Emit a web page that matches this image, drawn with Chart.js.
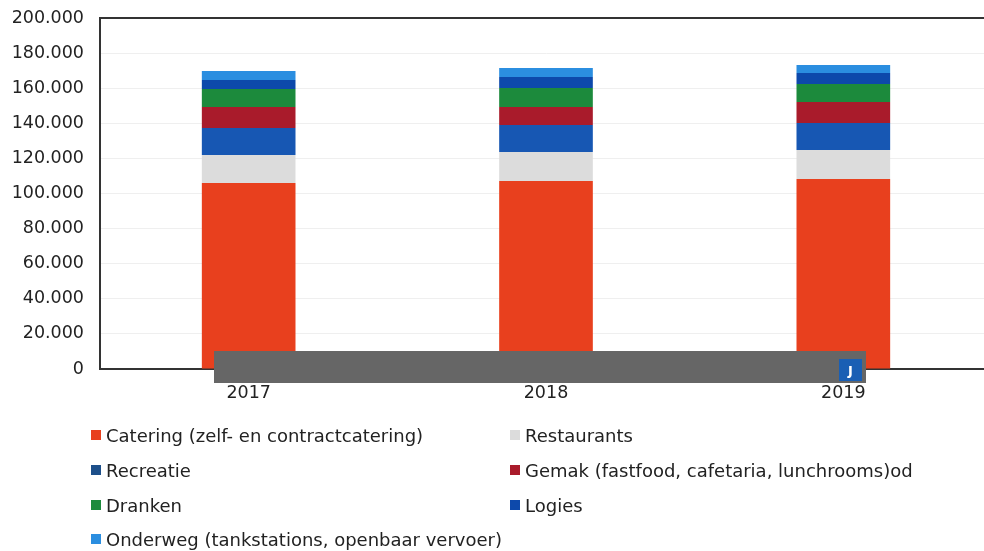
<!DOCTYPE html>
<html>
<head>
<meta charset="utf-8">
<script src="https://cdn.jsdelivr.net/npm/chart.js@4/dist/chart.umd.min.js"></script>
<style>
  html, body { margin: 0; padding: 0; background: #fff; overflow: hidden; width: 984px; height: 551px; }
  #wrap { position: absolute; left: 0; top: 0; width: 992px; height: 410px; }
  #legend { position: absolute; left: 0; top: 0; width: 984px; height: 551px; pointer-events: none;
            font-family: "DejaVu Sans", Verdana, sans-serif; font-size: 18px; color: #222; }
  .li { position: absolute; white-space: nowrap; display: flex; align-items: center; height: 24px; }
  .mk { width: 10px; height: 10px; margin-right: 5px; display: inline-block; }
</style>
</head>
<body>
<div id="wrap"><canvas id="c"></canvas></div>
<div id="legend"></div>
<script>
const categories = ["2017", "2018", "2019"];
const seriesNames = [
  "Catering (zelf- en contractcatering)",
  "Restaurants",
  "Recreatie",
  "Gemak (fastfood, cafetaria, lunchrooms)od",
  "Dranken",
  "Logies",
  "Onderweg (tankstations, openbaar vervoer)"
];
const catering    = [106000, 107100, 108300];
const restaurants = [15900, 16500, 16500];
const recreatie   = [15400, 15400, 15400];
const gemak       = [12000, 10300, 11900];
const dranken     = [10200, 10800, 10300];
const logies      = [5200, 6300, 6300];
const onderweg    = [5100, 5100, 4500];
const yTicks = [0, 20000, 40000, 60000, 80000, 100000, 120000, 140000, 160000, 180000, 200000];

const seriesValues = [catering, restaurants, recreatie, gemak, dranken, logies, onderweg];
const barColors = ["#e8401e", "#dcdcdc", "#1757b3", "#a91b2b", "#1c8a3c", "#0d49ab", "#2b8ee0"];
const legendColors = ["#e8401e", "#dcdcdc", "#1d4f8a", "#a91b2b", "#1c8a3c", "#0d49ab", "#2b8ee0"];

const overlayPlugin = {
  id: 'overlay',
  afterDraw(chart) {
    const ctx = chart.ctx;
    ctx.save();
    ctx.fillStyle = '#666666';
    ctx.fillRect(214, 351, 652, 32);
    ctx.fillStyle = '#1a5fb4';
    ctx.fillRect(839, 359, 23, 22);
    ctx.fillStyle = '#ffffff';
    ctx.font = 'bold 13px "DejaVu Sans"';
    ctx.textAlign = 'center';
    ctx.textBaseline = 'middle';
    ctx.fillText('J', 850.5, 372);
    ctx.restore();
  }
};

const chart = new Chart(document.getElementById('c'), {
  type: 'bar',
  data: {
    labels: categories,
    datasets: seriesValues.map((vals, i) => ({
      label: seriesNames[i],
      data: vals,
      backgroundColor: barColors[i],
      borderWidth: 0,
      categoryPercentage: 1,
      barPercentage: 0.315
    }))
  },
  options: {
    responsive: true,
    maintainAspectRatio: false,
    animation: false,
    layout: { padding: { top: 18, left: 0, right: 0, bottom: 0 } },
    plugins: { legend: { display: false }, tooltip: { enabled: false } },
    scales: {
      x: {
        stacked: true,
        grid: { display: false, drawTicks: false },
        border: { display: true, color: '#333', width: 2 },
        ticks: { color: '#222', font: { family: 'DejaVu Sans', size: 17.5 }, padding: 14 },
        afterFit(s) { s.height = 41; s.paddingLeft = 0; s.paddingRight = 0; }
      },
      y: {
        stacked: true,
        min: 0, max: 200000,
        afterBuildTicks(s) { s.ticks = yTicks.map(v => ({ value: v })); },
        grid: {
          drawTicks: false,
          color: (c) => c.tick && c.tick.value === 200000 ? '#333' : '#efefef',
          lineWidth: (c) => c.tick && c.tick.value === 200000 ? 2 : 1
        },
        border: { display: true, color: '#333', width: 2 },
        ticks: {
          color: '#222', padding: 16,
          font: { family: 'DejaVu Sans', size: 17.5 },
          callback: (v) => v === 0 ? '0' : v.toLocaleString('de-DE', { minimumFractionDigits: 0 }).replace(/,/g, '.')
        },
        afterFit(s) { s.width = 100; s.paddingTop = 0; s.paddingBottom = 0; }
      }
    }
  },
  plugins: [overlayPlugin]
});

// HTML legend (two columns)
const legendPos = [
  [91, 435], [510, 435],
  [91, 470], [510, 470],
  [91, 505], [510, 505],
  [91, 539]
];
const lg = document.getElementById('legend');
seriesNames.forEach((name, i) => {
  const d = document.createElement('div');
  d.className = 'li';
  d.style.left = legendPos[i][0] + 'px';
  d.style.top = (legendPos[i][1] - 12) + 'px';
  const m = document.createElement('span');
  m.className = 'mk';
  m.style.background = legendColors[i];
  const t = document.createElement('span');
  t.textContent = name;
  d.appendChild(m); d.appendChild(t);
  lg.appendChild(d);
});
</script>
</body>
</html>
